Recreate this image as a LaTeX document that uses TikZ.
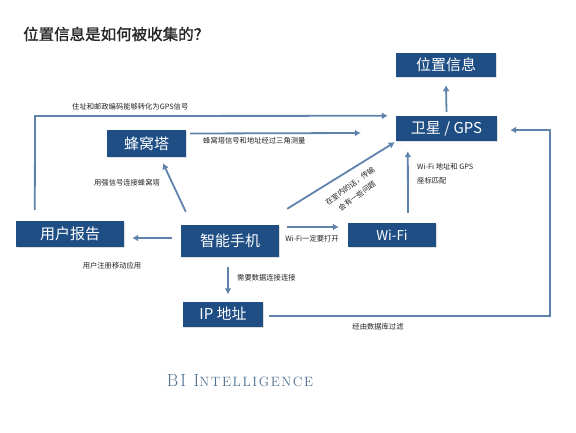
\documentclass[tikz,border=0pt]{standalone}
\usepackage{fontspec}
\newfontfamily\cjk{Noto Sans CJK SC}
\newfontfamily\cjkb[FakeBold=1.2]{Noto Sans CJK SC}
\newfontfamily\bifont[LetterSpace=12]{Latin Modern Roman}
\usetikzlibrary{arrows.meta,calc,shadows}
\definecolor{boxblue}{HTML}{1F4E85}
\definecolor{linecol}{HTML}{5F83AC}
\definecolor{labcol}{HTML}{222222}
\definecolor{bicol}{HTML}{4D6F8F}
\begin{document}
\begin{tikzpicture}[x=1pt,y=-1pt,
  box/.style={fill=boxblue,text=white,inner sep=0pt,font=\cjk\fontsize{15}{15}\selectfont,
    drop shadow={shadow xshift=1.2pt,shadow yshift=-1.2pt,opacity=0.25,fill=gray}},
  arr/.style={draw=linecol,line width=1.8pt,-{Latex[length=6pt,width=7pt]}},
  lab/.style={text=labcol,inner sep=0pt,font=\cjk\fontsize{7.3}{9}\selectfont}]
\useasboundingbox (0,0) rectangle (576,432);
\fill[white] (0,0) rectangle (576,432);

\node[anchor=west,inner sep=0pt,text=black!85,font=\cjkb\fontsize{15.5}{15.5}\selectfont] (title) at (23,34) {位置信息是如何被收集的？};

\node[box,minimum width=100pt,minimum height=24pt] (pos) at (446,65) {位置信息};
\node[box,minimum width=101pt,minimum height=25pt] (gps) at (446.5,128.5) {卫星 / GPS};
\node[box,minimum width=79pt,minimum height=27pt] (cell) at (146.5,143.5) {蜂窝塔};
\node[box,minimum width=108pt,minimum height=26pt] (ur) at (70,234) {用户报告};
\node[box,minimum width=98pt,minimum height=32pt] (phone) at (230,241) {智能手机};
\node[box,minimum width=88pt,minimum height=24pt,font=\cjk\fontsize{13.5}{13.5}\selectfont] (wifi) at (392,235) {Wi-Fi};
\node[box,minimum width=80pt,minimum height=25pt] (ip) at (223,314) {IP 地址};

% GPS -> position
\draw[arr] ([yshift=4pt]gps.north) -- ([yshift=-8pt]pos.south);

% user report loop -> GPS
\coordinate (topbend) at (35,116);
\draw[arr] ([shift={(19,-11)}]ur.north west) -- (topbend) -- ([shift={(-8,0)}]gps.north west);
\node[lab,anchor=west] (l1) at (72,107) {住址和邮政编码能够转化为GPS信号};

% cell tower -> GPS
\draw[arr] ([shift={(4,-10)}]cell.east) -- ([shift={(-35,4.5)}]gps.west);
\node[lab,anchor=west] (l2) at (203,141) {蜂窝塔信号和地址经过三角测量};

% phone -> GPS diagonal
\draw[arr] ([shift={(8,-16)}]phone.north east) -- ([shift={(-1,1)}]gps.south west);
\node[lab,rotate=36] (l3a) at (350,186) {在室内的话，传输};
\node[lab,rotate=36] (l3b) at (357,196) {会有一些问题};

% wifi -> GPS
\draw[arr] ([shift={(16,-10)}]wifi.north) -- ([shift={(12,10)}]gps.south west);
\node[lab,anchor=north west,align=left,font=\cjk\fontsize{7.3}{14}\selectfont] (l4) at (417,163) {Wi-Fi 地址和 GPS\\座标匹配};

% IP -> GPS via right side
\coordinate (rb1) at (550,316);
\coordinate (rb2) at (550,130);
\draw[arr] ([shift={(6,2)}]ip.east) -- (rb1) -- (rb2) -- ([shift={(13,1.5)}]gps.east);
\node[lab] (l5) at (378,327) {经由数据库过滤};

% phone -> cell
\draw[arr] ([shift={(5,-13)}]phone.north west) -- ([shift={(16.5,6)}]cell.south);
\node[lab] (l6) at (127,183) {用强信号连接蜂窝塔};

% phone -> user report
\draw[arr] ([shift={(-9,-3)}]phone.west) -- ([shift={(8,4)}]ur.east);
\node[lab] (l7) at (112,266) {用户注册移动应用};

% phone -> wifi
\draw[arr] ([shift={(8,-14)}]phone.east) -- ([shift={(-9,-8)}]wifi.west);
\node[lab] (l8) at (312,239) {Wi-Fi一定要打开};

% phone -> IP
\draw[arr] ([shift={(-2,10)}]phone.south) -- ([shift={(5,-7)}]ip.north);
\node[lab,anchor=west] (l9) at (237,278) {需要数据连接连接};

\node[text=bicol,inner sep=0pt,font=\bifont\fontsize{17.5}{17.5}\selectfont] (bi) at (240,381) {BI I{\fontsize{13.5}{13.5}\selectfont NTELLIGENCE}};
\end{tikzpicture}
\end{document}
